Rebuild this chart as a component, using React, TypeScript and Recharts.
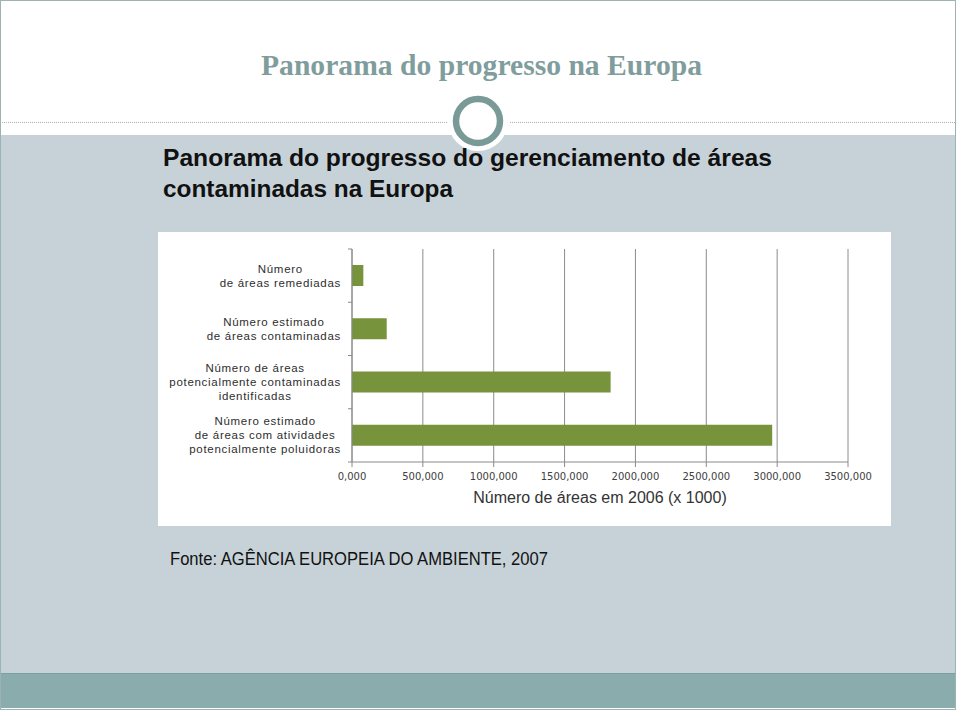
import React from 'react';
import { BarChart, Bar, XAxis, YAxis, CartesianGrid, Label } from 'recharts';

const categories: string[] = [
  'Número\nde áreas remediadas',
  'Número estimado\nde áreas contaminadas',
  'Número de áreas\npotencialmente contaminadas\nidentificadas',
  'Número estimado\nde áreas com atividades\npotencialmente poluidoras',
];
const values: number[] = [80, 245, 1825, 2965];
const xTicks: number[] = [0, 500, 1000, 1500, 2000, 2500, 3000, 3500];

const pageTitle = 'Panorama do progresso na Europa';
const subtitleLines = ['Panorama do progresso do gerenciamento de áreas', 'contaminadas na Europa'];
const xAxisTitle = 'Número de áreas em 2006 (x 1000)';
const sourceNote = 'Fonte: AGÊNCIA EUROPEIA DO AMBIENTE, 2007';

const data = categories.map((name, i) => ({ name, value: values[i] }));

const CHART_W = 733;
const CHART_H = 294;
const MARGIN = { top: 17, right: 43, left: 0, bottom: 0 };
const X_AXIS_H = 64;
const PLOT_H = CHART_H - MARGIN.top - MARGIN.bottom - X_AXIS_H;
const BAND = PLOT_H / categories.length;

const LABEL_FS = 11.5;
const LABEL_LS = 0.7;
const LABEL_LH = 14;

let ctx: CanvasRenderingContext2D | null = null;
const measure = (s: string) => {
  if (!ctx) {
    const c = document.createElement('canvas');
    ctx = c.getContext('2d');
  }
  if (!ctx) return s.length * LABEL_FS * 0.5;
  ctx.font = `${LABEL_FS}px "Liberation Sans", Arial, sans-serif`;
  return ctx.measureText(s).width + LABEL_LS * s.length;
};

const YTick = (props: any) => {
  const { x, y, payload, index } = props;
  const lines = String(payload.value).split('\n');
  const n = lines.length;
  const maxW = Math.max(...lines.map(measure));
  const cx = x - 11 - maxW / 2;
  const half = BAND / 2;
  return (
    <g>
      <line x1={x - 4} x2={x} y1={y - half} y2={y - half} stroke="#8a8a8a" />
      {index === categories.length - 1 && (
        <line x1={x - 4} x2={x} y1={y + half} y2={y + half} stroke="#8a8a8a" />
      )}
      <text
        textAnchor="middle"
        fontFamily='"Liberation Sans", Arial, sans-serif'
        fontSize={LABEL_FS}
        letterSpacing={LABEL_LS}
        fill="#2e2e2e"
      >
        {lines.map((l, i) => (
          <tspan key={i} x={cx} y={y + (i - (n - 1) / 2) * LABEL_LH} dy="0.35em">
            {l}
          </tspan>
        ))}
      </text>
    </g>
  );
};

export default function App() {
  return (
    <div style={{ position: 'absolute', left: 0, top: 0, width: 960, height: 712, overflow: 'hidden', background: '#ffffff' }}>
      <svg width={960} height={712} style={{ position: 'absolute', left: 0, top: 0 }}>
        <rect x={0} y={0} width={960} height={712} fill="#ffffff" />
        <rect x={1} y={135} width={955} height={538} fill="#c7d2d8" />
        <rect x={1} y={673} width={955} height={35} fill="#8aacac" />
        <line x1={1} x2={956} y1={673.5} y2={673.5} stroke="#7e9f9f" />
        <line x1={2} x2={448} y1={122.5} y2={122.5} stroke="#b0b0b0" strokeDasharray="1 1" />
        <line x1={510} x2={955} y1={122.5} y2={122.5} stroke="#b0b0b0" strokeDasharray="1 1" />
        <circle cx={478} cy={121} r={30} fill="#ffffff" />
        <circle cx={478} cy={121} r={22} fill="#ffffff" stroke="#7a9a98" strokeWidth={6.5} />
        <rect x={0.5} y={0.5} width={955} height={709} fill="none" stroke="#9db2b2" />
        <text
          x={481.5}
          y={75}
          textAnchor="middle"
          fontFamily='"Liberation Serif", "Times New Roman", serif'
          fontWeight="bold"
          fontSize={30}
          fill="#7f9d9c"
          textLength={441}
          lengthAdjust="spacingAndGlyphs"
        >
          {pageTitle}
        </text>
        <text x={163} y={166} fontFamily='"Liberation Sans", Arial, sans-serif' fontWeight="bold" fontSize={24} fill="#111111" textLength={609} lengthAdjust="spacingAndGlyphs">
          {subtitleLines[0]}
        </text>
        <text x={163} y={197} fontFamily='"Liberation Sans", Arial, sans-serif' fontWeight="bold" fontSize={24} fill="#111111" textLength={290} lengthAdjust="spacingAndGlyphs">
          {subtitleLines[1]}
        </text>
        <rect x={158} y={232} width={733} height={294} fill="#ffffff" />
        <text x={170} y={565} fontFamily='"Liberation Sans", Arial, sans-serif' fontSize={19} fill="#111111" textLength={378} lengthAdjust="spacingAndGlyphs">
          {sourceNote}
        </text>
      </svg>
      <div style={{ position: 'absolute', left: 158, top: 232, width: CHART_W, height: CHART_H }}>
        <BarChart width={CHART_W} height={CHART_H} data={data} layout="vertical" margin={MARGIN} barCategoryGap="30%">
          <CartesianGrid horizontal={false} vertical={true} stroke="#8c8c8c" />
          <XAxis
            type="number"
            dataKey="value"
            domain={[0, 3500]}
            ticks={xTicks}
            interval={0}
            height={X_AXIS_H}
            tickFormatter={(v: number) => v.toFixed(3).replace('.', ',')}
            axisLine={{ stroke: '#8a8a8a' }}
            tickLine={{ stroke: '#8a8a8a' }}
            tickSize={5}
            tickMargin={6}
            tick={{ fontSize: 10, fontFamily: '"DejaVu Sans", Verdana, sans-serif', fill: '#404040' }}
          >
            <Label
              value={xAxisTitle}
              position="insideBottom"
              offset={23}
              style={{ fontSize: 16, fontFamily: '"Liberation Sans", Arial, sans-serif', fill: '#333333', textAnchor: 'middle' }}
            />
          </XAxis>
          <YAxis
            type="category"
            dataKey="name"
            width={194}
            interval={0}
            tickSize={0}
            tickMargin={0}
            tickLine={false}
            axisLine={{ stroke: '#8a8a8a' }}
            tick={<YTick />}
          />
          <Bar dataKey="value" fill="#77933c" isAnimationActive={false} />
        </BarChart>
      </div>
    </div>
  );
}
